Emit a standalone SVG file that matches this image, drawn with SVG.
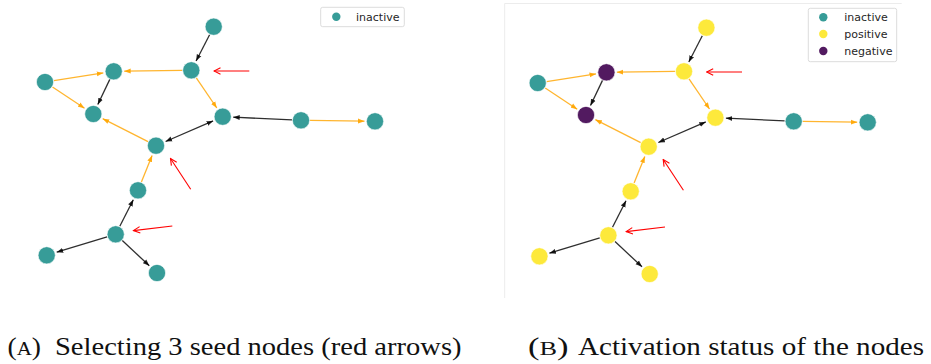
<svg xmlns="http://www.w3.org/2000/svg" width="931" height="364" viewBox="0 0 931 364">
<style>
.e{fill:none;stroke-width:1.3}
.k{stroke:#000;stroke-opacity:0.82;marker-end:url(#mk)}
.o{stroke:#ffa500;stroke-opacity:0.82;marker-end:url(#mo)}
.r{fill:none;stroke:#ff0000;stroke-width:1.1;marker-end:url(#mr)}
.ti{fill:#379c98}
.po{fill:#fde93b}
.ne{fill:#521a60}
.nd{stroke:#ffffff;stroke-width:0.6}
.lg{fill:#ffffff;stroke:#dcdcdc;stroke-width:1}
.lt{font-family:"DejaVu Sans",sans-serif;font-size:11px;fill:#262626}
.cap{font-family:"Liberation Serif",serif;font-size:25px;fill:#111}
.sc{font-size:19px}
</style>
<defs>
<marker id="mk" markerUnits="userSpaceOnUse" markerWidth="7" markerHeight="6" refX="6.5" refY="2.5" orient="auto-start-reverse" viewBox="0 0 7 5">
<path d="M0,0 L6.5,2.5 L0,5 z" fill="#000" fill-opacity="0.85"/>
</marker>
<marker id="mo" markerUnits="userSpaceOnUse" markerWidth="7" markerHeight="6" refX="6.5" refY="2.5" orient="auto-start-reverse" viewBox="0 0 7 5">
<path d="M0,0 L6.5,2.5 L0,5 z" fill="#ffa500" fill-opacity="0.9"/>
</marker>
<marker id="mr" markerUnits="userSpaceOnUse" markerWidth="8" markerHeight="8" refX="7" refY="4" orient="auto" viewBox="0 0 8 8">
<path d="M0.5,0.8 L7,4 L0.5,7.2" fill="none" stroke="#ff0000" stroke-width="1.1"/>
</marker>
</defs>

<!-- Panel A -->
<g id="panelA">
<g id="connectorsA">
<line class="e k" x1="209.6" y1="34.7" x2="196.1" y2="61.0"/>
<line class="e o" x1="182.3" y1="70.4" x2="124.2" y2="71.2"/>
<line class="e o" x1="196.3" y1="77.8" x2="216.8" y2="108.0"/>
<line class="e o" x1="53.9" y1="80.6" x2="103.3" y2="72.9"/>
<line class="e o" x1="52.5" y1="87.0" x2="84.5" y2="108.2"/>
<line class="e k" x1="109.8" y1="79.4" x2="97.8" y2="104.5"/>
<line class="e o" x1="148.0" y1="141.6" x2="102.7" y2="118.7"/>
<line class="e k" x1="165.6" y1="141.5" x2="213.1" y2="120.9" marker-start="url(#mk)"/>
<line class="e k" x1="292.0" y1="119.9" x2="233.2" y2="117.2"/>
<line class="e o" x1="310.0" y1="120.4" x2="364.5" y2="121.2"/>
<line class="e o" x1="141.4" y1="182.0" x2="152.1" y2="155.4"/>
<line class="e k" x1="119.8" y1="226.3" x2="133.3" y2="199.7"/>
<line class="e k" x1="107.1" y1="236.9" x2="56.7" y2="252.2"/>
<line class="e k" x1="122.3" y1="240.5" x2="149.3" y2="265.8"/>
<line class="r" x1="249.3" y1="71" x2="214" y2="71"/>
<line class="r" x1="190.7" y1="189.3" x2="170.5" y2="158.5"/>
<line class="r" x1="172.3" y1="226" x2="133.5" y2="230.6"/>
</g>
<g id="a_n1"><circle class="nd ti" cx="213.7" cy="26.7" r="8.6"/></g>
<g id="a_n2"><circle class="nd ti" cx="191.3" cy="70.3" r="8.6"/></g>
<g id="a_n3"><circle class="nd ti" cx="113.7" cy="71.3" r="8.6"/></g>
<g id="a_n4"><circle class="nd ti" cx="45" cy="82" r="8.6"/></g>
<g id="a_n5"><circle class="nd ti" cx="93.3" cy="114" r="8.6"/></g>
<g id="a_n6"><circle class="nd ti" cx="222.7" cy="116.7" r="8.6"/></g>
<g id="a_n7"><circle class="nd ti" cx="301" cy="120.3" r="8.6"/></g>
<g id="a_n8"><circle class="nd ti" cx="375" cy="121.3" r="8.6"/></g>
<g id="a_n9"><circle class="nd ti" cx="156" cy="145.7" r="8.6"/></g>
<g id="a_n10"><circle class="nd ti" cx="138" cy="190.3" r="8.6"/></g>
<g id="a_n11"><circle class="nd ti" cx="115.7" cy="234.3" r="8.6"/></g>
<g id="a_n12"><circle class="nd ti" cx="46.7" cy="255.3" r="8.6"/></g>
<g id="a_n13"><circle class="nd ti" cx="157" cy="273" r="8.6"/></g>
<g id="legendA">
<rect class="lg" x="320.7" y="7.3" width="83.6" height="19.4" rx="2"/>
<circle class="ti" cx="336.3" cy="16.8" r="4.2"/>
<text class="lt" x="356" y="20.6">inactive</text>
</g>
</g>

<!-- Panel B -->
<g id="frameB" stroke="#ececec" stroke-width="1" fill="none">
<polyline points="504.7,298 504.7,3.5 901.7,3.5"/>
</g>
<g id="panelB" transform="translate(492.7,1)">
<g id="connectorsB">
<line class="e k" x1="209.6" y1="34.7" x2="196.1" y2="61.0"/>
<line class="e o" x1="182.3" y1="70.4" x2="124.2" y2="71.2"/>
<line class="e o" x1="196.3" y1="77.8" x2="216.8" y2="108.0"/>
<line class="e o" x1="53.9" y1="80.6" x2="103.3" y2="72.9"/>
<line class="e o" x1="52.5" y1="87.0" x2="84.5" y2="108.2"/>
<line class="e k" x1="109.8" y1="79.4" x2="97.8" y2="104.5"/>
<line class="e o" x1="148.0" y1="141.6" x2="102.7" y2="118.7"/>
<line class="e k" x1="165.6" y1="141.5" x2="213.1" y2="120.9" marker-start="url(#mk)"/>
<line class="e k" x1="292.0" y1="119.9" x2="233.2" y2="117.2"/>
<line class="e o" x1="310.0" y1="120.4" x2="364.5" y2="121.2"/>
<line class="e o" x1="141.4" y1="182.0" x2="152.1" y2="155.4"/>
<line class="e k" x1="119.8" y1="226.3" x2="133.3" y2="199.7"/>
<line class="e k" x1="107.1" y1="236.9" x2="56.7" y2="252.2"/>
<line class="e k" x1="122.3" y1="240.5" x2="149.3" y2="265.8"/>
<line class="r" x1="249.3" y1="71" x2="214" y2="71"/>
<line class="r" x1="190.7" y1="189.3" x2="170.5" y2="158.5"/>
<line class="r" x1="172.3" y1="226" x2="133.5" y2="230.6"/>
</g>
<g id="b_n1"><circle class="nd po" cx="213.7" cy="26.7" r="8.6"/></g>
<g id="b_n2"><circle class="nd po" cx="191.3" cy="70.3" r="8.6"/></g>
<g id="b_n3"><circle class="nd ne" cx="113.7" cy="71.3" r="8.6"/></g>
<g id="b_n4"><circle class="nd ti" cx="45" cy="82" r="8.6"/></g>
<g id="b_n5"><circle class="nd ne" cx="93.3" cy="114" r="8.6"/></g>
<g id="b_n6"><circle class="nd po" cx="222.7" cy="116.7" r="8.6"/></g>
<g id="b_n7"><circle class="nd ti" cx="301" cy="120.3" r="8.6"/></g>
<g id="b_n8"><circle class="nd ti" cx="375" cy="121.3" r="8.6"/></g>
<g id="b_n9"><circle class="nd po" cx="156" cy="145.7" r="8.6"/></g>
<g id="b_n10"><circle class="nd po" cx="138" cy="190.3" r="8.6"/></g>
<g id="b_n11"><circle class="nd po" cx="115.7" cy="234.3" r="8.6"/></g>
<g id="b_n12"><circle class="nd po" cx="46.7" cy="255.3" r="8.6"/></g>
<g id="b_n13"><circle class="nd po" cx="157" cy="273" r="8.6"/></g>
</g>
<g id="legendB">
<rect class="lg" x="808.3" y="8.3" width="88.4" height="53.4" rx="2"/>
<circle class="ti" cx="823.3" cy="17.3" r="4.2"/>
<circle class="po" cx="823.3" cy="34" r="4.2"/>
<circle class="ne" cx="823.3" cy="51" r="4.2"/>
<text class="lt" x="844.3" y="21">inactive</text>
<text class="lt" x="844.3" y="37.7">positive</text>
<text class="lt" x="844.3" y="54.5">negative</text>
</g>

<!-- Captions -->
<g id="captions">
<text class="cap" x="7.5" y="355" textLength="33.5" lengthAdjust="spacingAndGlyphs">(<tspan class="sc">A</tspan>)</text>
<text class="cap" x="55" y="355" textLength="406.5" lengthAdjust="spacingAndGlyphs">Selecting 3 seed nodes (red arrows)</text>
<text class="cap" x="528" y="355" textLength="40.5" lengthAdjust="spacingAndGlyphs">(<tspan class="sc">B</tspan>)</text>
<text class="cap" x="578" y="355" textLength="346" lengthAdjust="spacingAndGlyphs">Activation status of the nodes</text>
</g>
</svg>
